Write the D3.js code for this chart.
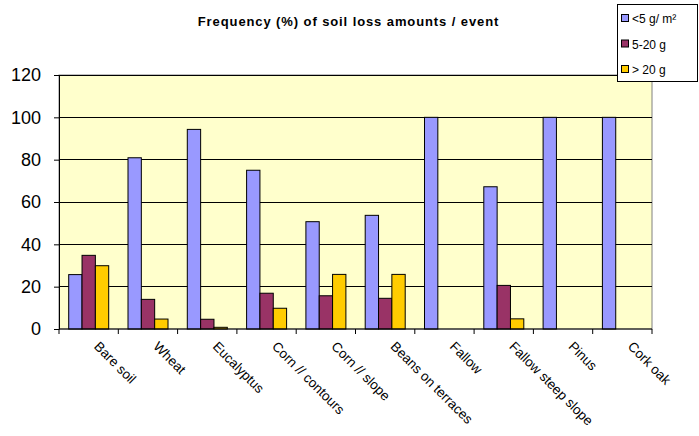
<!DOCTYPE html>
<html><head><meta charset="utf-8">
<script src="https://cdn.jsdelivr.net/npm/d3@7"></script>
<style>body{margin:0;background:#fff}svg{display:block}</style>
</head><body>
<svg id="c" width="699" height="436"></svg>
<script>
const categories = ["Bare soil","Wheat","Eucalyptus","Corn // contours","Corn // slope","Beans on terraces","Fallow","Fallow steep slope","Pinus","Cork oak"];
const seriesNames = ["<5 g/ m²","5-20 g","> 20 g"];
const lt5 = [25.7,80.9,94.3,75,50.7,53.7,100,67.2,100,100];
const g5to20 = [34.8,14,4.6,16.9,15.7,14.5,0,20.6,0,0];
const gt20 = [29.9,4.7,0.8,9.8,25.8,25.8,0,4.8,0,0];
const yTicks = [0,20,40,60,80,100,120];
const colors = ["#9999FF","#993366","#FFCC00"];
const series = [lt5,g5to20,gt20];

const svg = d3.select("#c");
const L=59,R=652,T=75,B=329;
const FONT = "Arial, 'Liberation Sans', sans-serif";
const x = d3.scaleBand().domain(categories).range([L,R]).padding(0);
const xs = d3.scaleBand().domain(d3.range(3)).range([9.7, x.bandwidth()-9.6]).padding(0);
const y = d3.scaleLinear().domain([0,120]).range([B,T]);

svg.append("rect").attr("x",L).attr("y",T).attr("width",R-L).attr("height",B-T).attr("fill","#FFFFCC").attr("stroke","#808080");
svg.append("g").selectAll("line").data(yTicks.filter(d=>d>0)).join("line")
  .attr("x1",L).attr("x2",R).attr("y1",d=>y(d)).attr("y2",d=>y(d)).attr("stroke","#000").attr("stroke-width",1).attr("shape-rendering","crispEdges");

series.forEach((vals,si)=>{
  svg.append("g").selectAll("rect").data(categories.map((c,i)=>({c,v:vals[i]})).filter(d=>d.v>0)).join("rect")
    .attr("x",d=>x(d.c)+xs(si)).attr("width",xs.bandwidth())
    .attr("y",d=>y(d.v)).attr("height",d=>B-y(d.v))
    .attr("fill",colors[si]).attr("stroke","#000").attr("stroke-width",1);
});

// y axis
const ya = svg.append("g").attr("transform",`translate(${L},0)`).call(d3.axisLeft(y).tickValues(yTicks).tickSize(5).tickSizeOuter(0));
ya.select(".domain").attr("stroke","#000");
ya.selectAll("text").attr("font-family",FONT).attr("font-size",18).attr("fill","#000").attr("dx",-10);

// x axis line & ticks at boundaries
svg.append("line").attr("x1",L).attr("x2",R).attr("y1",B).attr("y2",B).attr("stroke","#000");
const bounds = categories.map(c=>x(c)).concat([R]);
svg.append("g").selectAll("line").data(bounds).join("line")
  .attr("x1",d=>d).attr("x2",d=>d).attr("y1",B).attr("y2",B+5).attr("stroke","#000");

svg.append("g").selectAll("text").data(categories).join("text")
  .attr("transform",d=>`translate(${x(d)+x.bandwidth()/2+8},${B+15}) rotate(45)`)
  .attr("font-family",FONT).attr("font-size",13.5)
  .attr("dy","0.35em").text(d=>d);

svg.append("text").attr("x",348.5).attr("y",26).attr("text-anchor","middle")
  .attr("font-family",FONT).attr("font-size",13).attr("font-weight","bold").attr("letter-spacing",0.9)
  .text("Frequency (%) of soil loss amounts / event");

// legend
const lg = svg.append("g");
lg.append("rect").attr("x",617.5).attr("y",4.5).attr("width",80).attr("height",77).attr("fill","#fff").attr("stroke","#000");
seriesNames.forEach((n,i)=>{
  const yy = 19 + i*25.5;
  lg.append("rect").attr("x",621.5).attr("y",yy-4.5).attr("width",7).attr("height",7).attr("fill",colors[i]).attr("stroke","#000");
  lg.append("text").attr("x",632).attr("y",yy).attr("dy","0.35em")
    .attr("font-family",FONT).attr("font-size",12).text(n);
});
</script>
</body></html>
